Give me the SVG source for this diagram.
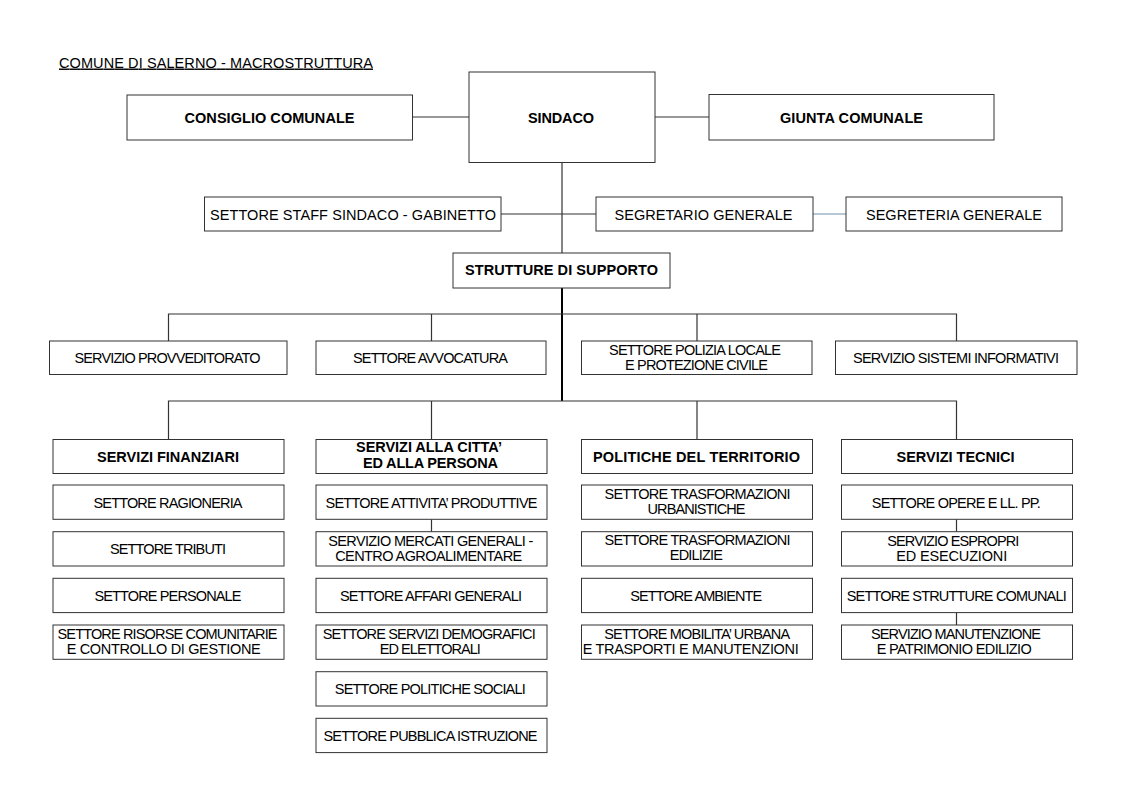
<svg xmlns="http://www.w3.org/2000/svg" width="1123" height="794" viewBox="0 0 1123 794">
<style>
.box{fill:#fff;stroke:#333;stroke-width:1}
.t{font-family:"Liberation Sans",Arial,sans-serif;font-size:14.5px;fill:#000;text-anchor:middle}
.b{font-weight:bold}
.ln{stroke:#333;stroke-width:1.2;fill:none}
.main{stroke:#000;stroke-width:2;fill:none}
.lite{stroke:#9fb4c4;stroke-width:1.5;fill:none}
</style>
<rect width="1123" height="794" fill="#fff"/>
<text x="59" y="67.5" font-family="Liberation Sans, Arial, sans-serif" font-size="14.5" text-decoration="underline" textLength="314">COMUNE DI SALERNO - MACROSTRUTTURA</text>

<g id="connectors">
<line class="ln" x1="412.5" y1="117" x2="469" y2="117"/>
<line class="ln" x1="655" y1="117" x2="709" y2="117"/>
<line class="ln" x1="562" y1="162.5" x2="562" y2="253"/>
<line class="ln" x1="501" y1="214" x2="596" y2="214"/>
<line class="lite" x1="813" y1="214" x2="846" y2="214"/>
<line class="main" x1="562" y1="288" x2="562" y2="401"/>
<polyline class="ln" points="168.5,341 168.5,314 956.5,314 956.5,341"/>
<line class="ln" x1="431.5" y1="314" x2="431.5" y2="341"/>
<line class="ln" x1="697" y1="314" x2="697" y2="341"/>
<polyline class="ln" points="168.5,439.5 168.5,401 956.5,401 956.5,439.5"/>
<line class="ln" x1="431.5" y1="401" x2="431.5" y2="439.5"/>
<line class="ln" x1="697" y1="401" x2="697" y2="439.5"/>
<line class="ln" x1="431.5" y1="519.3" x2="431.5" y2="531.7"/>
<line class="ln" x1="956.5" y1="519.3" x2="956.5" y2="531.7"/>
<line class="ln" x1="956.5" y1="612.6" x2="956.5" y2="625"/>
</g>

<g id="consiglio"><rect class="box" x="127" y="95" width="285.5" height="45"/><text class="t b" x="269.5" y="122.5" textLength="170">CONSIGLIO COMUNALE</text></g>
<g id="sindaco"><rect class="box" x="469" y="72" width="186" height="90.5"/><text class="t b" x="561" y="122.5" textLength="66">SINDACO</text></g>
<g id="giunta"><rect class="box" x="709" y="94.5" width="285" height="45.5"/><text class="t b" x="851.5" y="122.5" textLength="143">GIUNTA COMUNALE</text></g>

<g id="staff"><rect class="box" x="204.5" y="197" width="296.5" height="34"/><text class="t" x="353" y="219.5" textLength="286">SETTORE STAFF SINDACO - GABINETTO</text></g>
<g id="segretario"><rect class="box" x="596" y="197" width="217" height="34"/><text class="t" x="703.5" y="219.5" textLength="178">SEGRETARIO GENERALE</text></g>
<g id="segreteria"><rect class="box" x="846" y="197" width="216" height="34"/><text class="t" x="954" y="219.5" textLength="176">SEGRETERIA GENERALE</text></g>
<g id="strutture"><rect class="box" x="453" y="253" width="217" height="35"/><text class="t b" x="561.5" y="274.5" textLength="193">STRUTTURE DI SUPPORTO</text></g>

<g id="provveditorato"><rect class="box" x="49.5" y="341" width="237.5" height="33.5"/><text class="t" x="167.5" y="363.3" textLength="186">SERVIZIO PROVVEDITORATO</text></g>
<g id="avvocatura"><rect class="box" x="316" y="341" width="230" height="33.5"/><text class="t" x="430.5" y="363.3" textLength="155">SETTORE AVVOCATURA</text></g>
<g id="polizia"><rect class="box" x="581.5" y="341" width="230.5" height="33.5"/><text class="t" x="695" y="355" textLength="172">SETTORE POLIZIA LOCALE</text><text class="t" x="696.5" y="370" textLength="143">E PROTEZIONE CIVILE</text></g>
<g id="sistemi"><rect class="box" x="835.5" y="341" width="241.5" height="33.5"/><text class="t" x="956" y="363.3" textLength="206">SERVIZIO SISTEMI INFORMATIVI</text></g>

<g id="finanziari"><rect class="box" x="53" y="439.5" width="231" height="34"/><text class="t b" x="168" y="461.7" textLength="142">SERVIZI FINANZIARI</text></g>
<g id="citta"><rect class="box" x="316" y="439.5" width="231" height="34"/><text class="t b" x="429" y="452" textLength="146">SERVIZI ALLA CITTA’</text><text class="t b" x="430.5" y="467.5" textLength="135">ED ALLA PERSONA</text></g>
<g id="politiche"><rect class="box" x="581.5" y="439.5" width="231" height="34"/><text class="t b" x="696.5" y="461.7" textLength="207">POLITICHE DEL TERRITORIO</text></g>
<g id="tecnici"><rect class="box" x="841.5" y="439.5" width="231" height="34"/><text class="t b" x="955.5" y="461.7" textLength="118">SERVIZI TECNICI</text></g>

<g id="ragioneria"><rect class="box" x="53" y="485" width="231" height="34.3"/><text class="t" x="168" y="507.7" textLength="149">SETTORE RAGIONERIA</text></g>
<g id="tributi"><rect class="box" x="53" y="531.7" width="231" height="34.3"/><text class="t" x="168" y="554.3" textLength="116">SETTORE TRIBUTI</text></g>
<g id="personale"><rect class="box" x="53" y="578.3" width="231" height="34.3"/><text class="t" x="168" y="601" textLength="147">SETTORE PERSONALE</text></g>
<g id="risorse"><rect class="box" x="53" y="625" width="231" height="34.3"/><text class="t" x="167.5" y="639.3" textLength="220">SETTORE RISORSE COMUNITARIE</text><text class="t" x="163.7" y="654" textLength="194">E CONTROLLO DI GESTIONE</text></g>

<g id="attivita"><rect class="box" x="316" y="485" width="231" height="34.3"/><text class="t" x="431.5" y="507.7" textLength="212">SETTORE ATTIVITA’ PRODUTTIVE</text></g>
<g id="mercati"><rect class="box" x="316" y="531.7" width="231" height="34.3"/><text class="t" x="430.8" y="546" textLength="205">SERVIZIO MERCATI GENERALI -</text><text class="t" x="428.7" y="561" textLength="187">CENTRO AGROALIMENTARE</text></g>
<g id="affari"><rect class="box" x="316" y="578.3" width="231" height="34.3"/><text class="t" x="431" y="601" textLength="182">SETTORE AFFARI GENERALI</text></g>
<g id="demografici"><rect class="box" x="316" y="625" width="231" height="34.3"/><text class="t" x="429.2" y="639.3" textLength="213">SETTORE SERVIZI DEMOGRAFICI</text><text class="t" x="430.3" y="654" textLength="101">ED ELETTORALI</text></g>
<g id="sociali"><rect class="box" x="316" y="671.7" width="231" height="34.3"/><text class="t" x="430.3" y="694.3" textLength="191">SETTORE POLITICHE SOCIALI</text></g>
<g id="istruzione"><rect class="box" x="316" y="718.3" width="231" height="34.3"/><text class="t" x="430.5" y="741" textLength="214">SETTORE PUBBLICA ISTRUZIONE</text></g>

<g id="urbanistiche"><rect class="box" x="581.5" y="485" width="231" height="34.3"/><text class="t" x="697.5" y="498.5" textLength="186">SETTORE TRASFORMAZIONI</text><text class="t" x="696.5" y="513.5" textLength="98">URBANISTICHE</text></g>
<g id="edilizie"><rect class="box" x="581.5" y="531.7" width="231" height="34.3"/><text class="t" x="697.5" y="545.3" textLength="186">SETTORE TRASFORMAZIONI</text><text class="t" x="696.3" y="560.3" textLength="53">EDILIZIE</text></g>
<g id="ambiente"><rect class="box" x="581.5" y="578.3" width="231" height="34.3"/><text class="t" x="696.2" y="601" textLength="132">SETTORE AMBIENTE</text></g>
<g id="mobilita"><rect class="box" x="581.5" y="625" width="231" height="34.3"/><text class="t" x="697.2" y="639.3" textLength="186">SETTORE MOBILITA’ URBANA</text><text class="t" x="690.7" y="654" textLength="216">E TRASPORTI E MANUTENZIONI</text></g>

<g id="opere"><rect class="box" x="841.5" y="485" width="231" height="34.3"/><text class="t" x="956.3" y="507.7" textLength="169">SETTORE OPERE E LL. PP.</text></g>
<g id="espropri"><rect class="box" x="841.5" y="531.7" width="231" height="34.3"/><text class="t" x="953.3" y="546" textLength="132">SERVIZIO ESPROPRI</text><text class="t" x="951.7" y="561" textLength="111">ED ESECUZIONI</text></g>
<g id="strutturecomunali"><rect class="box" x="841.5" y="578.3" width="231" height="34.3"/><text class="t" x="956.7" y="601" textLength="220">SETTORE STRUTTURE COMUNALI</text></g>
<g id="manutenzione"><rect class="box" x="841.5" y="625" width="231" height="34.3"/><text class="t" x="956" y="639.3" textLength="170">SERVIZIO MANUTENZIONE</text><text class="t" x="954.2" y="654" textLength="155">E PATRIMONIO EDILIZIO</text></g>
</svg>
